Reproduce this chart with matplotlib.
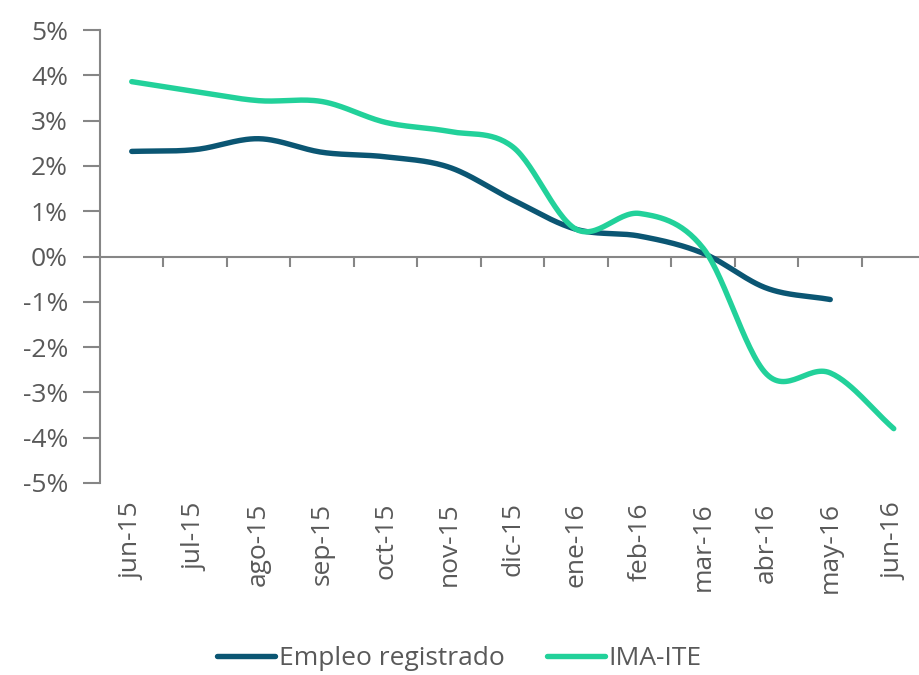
import numpy as np
import matplotlib.pyplot as plt

plt.rcParams['font.family'] = ['Open Sans', 'DejaVu Sans']

meses = ["jun-15", "jul-15", "ago-15", "sep-15", "oct-15", "nov-15", "dic-15",
         "ene-16", "feb-16", "mar-16", "abr-16", "may-16", "jun-16"]
empleo = [2.32, 2.36, 2.6, 2.3, 2.2, 1.97, 1.25, 0.6, 0.45, 0.07, -0.7, -0.95]
ima_ite = [3.86, 3.64, 3.44, 3.42, 2.96, 2.76, 2.42, 0.6, 0.95, 0.18, -2.6, -2.57, -3.8]

def suave(y, n=30):
    # Excel-style smoothed line (Catmull-Rom through the points)
    y = np.asarray(y, dtype=float)
    x = np.arange(len(y), dtype=float)
    p = np.concatenate([[2*y[0]-y[1]], y, [2*y[-1]-y[-2]]])
    xs, ys = [], []
    t = np.linspace(0, 1, n, endpoint=False)
    for i in range(len(y) - 1):
        p0, p1, p2, p3 = p[i], p[i+1], p[i+2], p[i+3]
        yy = 0.5*((2*p1) + (-p0+p2)*t + (2*p0-5*p1+4*p2-p3)*t**2 + (-p0+3*p1-3*p2+p3)*t**3)
        xs.append(x[i] + t)
        ys.append(yy)
    xs.append([x[-1]])
    ys.append([y[-1]])
    return np.concatenate(xs), np.concatenate(ys)

gris = "#868686"
texto = "#595959"

fig = plt.figure(figsize=(9.2, 6.75), dpi=100)
ax = fig.add_axes([100/920, 192/675, 825.5/920, 453/675])

xe, ye = suave(empleo)
xi, yi = suave(ima_ite)
ax.plot(xe, ye, color="#0B5673", lw=3.9, solid_capstyle="round", label="Empleo registrado", zorder=3)
ax.plot(xi, yi, color="#22D19A", lw=3.9, solid_capstyle="round", label="IMA-ITE", zorder=4)

ax.set_xlim(-0.5, len(meses) - 0.5)
ax.set_ylim(-5, 5)
ax.set_yticks(np.arange(-5, 6, 1))
ax.set_yticklabels([f"{v}%" for v in range(-5, 6)])
ax.set_xticks(range(len(meses)))
ax.set_xticklabels(meses, rotation=90)

for s in ["top", "right", "bottom"]:
    ax.spines[s].set_visible(False)
ax.spines["left"].set_color(gris)
ax.spines["left"].set_linewidth(1.5)
ax.tick_params(axis="y", length=12, width=1.5, color=gris, pad=11, labelsize=19, labelcolor=texto)
ax.tick_params(axis="x", length=0, pad=14, labelsize=19, labelcolor=texto)

ax.axhline(0, color=gris, lw=1.5, zorder=1)
ax.vlines(np.arange(0.5, len(meses) - 0.5, 1), -0.23, 0, color=gris, lw=1.5, zorder=1)

fig.legend(loc="center", bbox_to_anchor=(0.499, 0.024), ncol=2, frameon=False,
           fontsize=19, labelcolor=texto, handlelength=2.2, handletextpad=0.15,
           columnspacing=1.6)

fig.savefig("out.png", dpi=100)
